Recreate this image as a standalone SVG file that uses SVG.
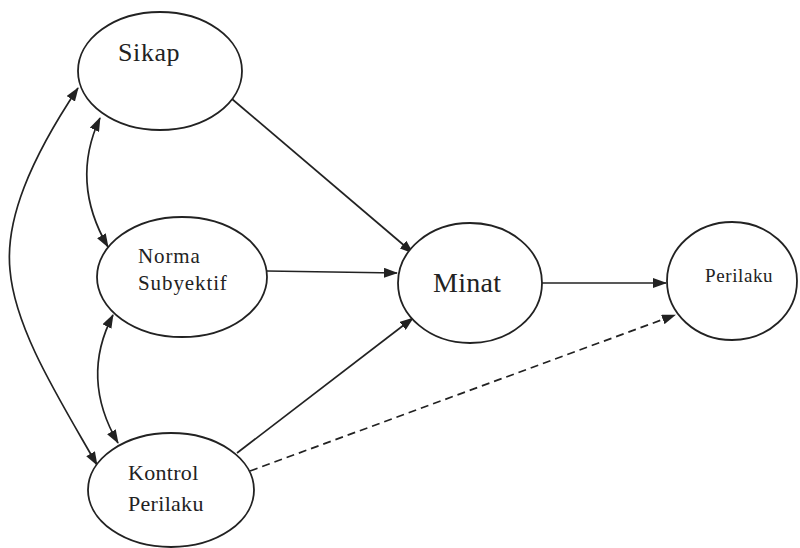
<svg xmlns="http://www.w3.org/2000/svg" width="800" height="548" viewBox="0 0 800 548">
<style>
.node{fill:#fff;stroke:#222;stroke-width:1.8}
.lbl{font-family:"Liberation Serif","Times New Roman",serif;fill:#222}
.c{fill:none;stroke:#222;stroke-width:1.7}
.d{stroke-dasharray:8 5}
</style>
<defs>
<marker id="ah" viewBox="0 0 14 10" refX="13" refY="5" markerWidth="14" markerHeight="10" markerUnits="userSpaceOnUse" orient="auto-start-reverse">
<path d="M0,0 L14,5 L0,10 Z" fill="#222"/>
</marker>
</defs>
<rect width="800" height="548" fill="#fff"/>
<g id="connectors">
<path class="c" d="M232,99 L413,253" marker-end="url(#ah)"/>
<path class="c" d="M267,271 L397,273" marker-end="url(#ah)"/>
<path class="c" d="M237,453 L413,318" marker-end="url(#ah)"/>
<path class="c" d="M542,283 L666,283" marker-end="url(#ah)"/>
<path class="c d" d="M250,471 L675,315" marker-end="url(#ah)"/>
<path class="c" d="M100,118 Q70,182 108,247" marker-start="url(#ah)" marker-end="url(#ah)"/>
<path class="c" d="M113,315 Q80,378 118,443" marker-start="url(#ah)" marker-end="url(#ah)"/>
<path class="c" d="M78,88 C30,160 5,220 10,270 C15,330 60,400 97,465" marker-start="url(#ah)" marker-end="url(#ah)"/>
</g>
<g id="sikap">
<ellipse class="node" cx="160" cy="71" rx="82" ry="59"/>
<text class="lbl" x="118" y="61" font-size="26" letter-spacing="0.6">Sikap</text>
</g>
<g id="norma">
<ellipse class="node" cx="182" cy="277" rx="85" ry="60"/>
<text class="lbl" x="138" y="263" font-size="21" letter-spacing="0.9">Norma</text>
<text class="lbl" x="138" y="290" font-size="21" letter-spacing="0.9">Subyektif</text>
</g>
<g id="minat">
<ellipse class="node" cx="470" cy="283" rx="72" ry="60"/>
<text class="lbl" x="433" y="292" font-size="28" letter-spacing="0.3">Minat</text>
</g>
<g id="perilaku">
<ellipse class="node" cx="732" cy="281" rx="65" ry="59"/>
<text class="lbl" x="705" y="282" font-size="19" letter-spacing="0.6">Perilaku</text>
</g>
<g id="kontrol">
<ellipse class="node" cx="171" cy="490" rx="83" ry="57"/>
<text class="lbl" x="128" y="480" font-size="22" letter-spacing="0.3">Kontrol</text>
<text class="lbl" x="128" y="511" font-size="22" letter-spacing="0.3">Perilaku</text>
</g>
</svg>
